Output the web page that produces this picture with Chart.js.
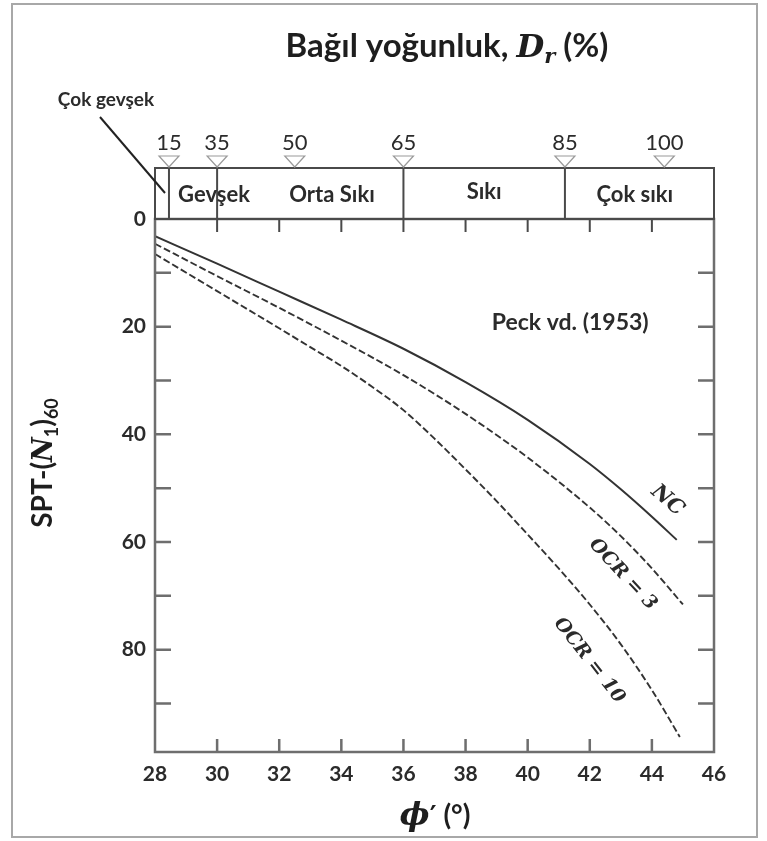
<!DOCTYPE html>
<html>
<head>
<meta charset="utf-8">
<script src="https://cdn.jsdelivr.net/npm/chart.js@4.4.1/dist/chart.umd.min.js"></script>
<style>
  html, body { margin: 0; padding: 0; background: #fff; }
  #wrap { width: 767px; height: 841px; }
</style>
</head>
<body>
<div id="wrap"><canvas id="sptChart" width="767" height="841"></canvas></div>
<script>
// phi' axis (bottom) and SPT axis (left, downward)
var phiTicks = [28, 30, 32, 34, 36, 38, 40, 42, 44, 46];
var nTicks = [0, 20, 40, 60, 80];
var phiMinor = [30, 32, 34, 36, 38, 40, 42, 44];
var nMinor = [10, 20, 30, 40, 50, 60, 70, 80, 90];

// Peck et al. curves
var ncPhi = [28, 30, 32, 34, 36, 38, 40, 42, 43, 44, 44.8];
var ncN = [3.2, 8.3, 13.5, 18.7, 24.1, 30.3, 37.3, 45.5, 50.2, 55.3, 59.6];
var ocr3Phi = [28, 30, 32, 34, 36, 38, 40, 42, 43, 44, 45];
var ocr3N = [4.6, 10.6, 16.5, 22.6, 29.0, 36.2, 44.3, 53.6, 58.9, 64.9, 71.6];
var ocr10Phi = [28, 30, 32, 33, 34, 35, 36, 37, 38, 39, 40, 41, 42, 43, 44, 44.9];
var ocr10N = [6.5, 13.4, 20.3, 23.8, 27.3, 31.2, 35.5, 40.8, 46.5, 52.4, 58.6, 64.9, 71.6, 79.0, 87.5, 96.2];

// relative density band on top
var drValues = [15, 35, 50, 65, 85, 100];
var drPhi = [28.45, 30, 32.5, 36, 41.2, 44.4];
var drDividers = [15, 35, 65, 85];
var classNames = ['Gevşek', 'Orta Sıkı', 'Sıkı', 'Çok sıkı'];
var classPhi = [29.9, 33.7, 38.6, 43.45];

var SANS = 'Lato, "Open Sans", sans-serif';
var SERIF = '"DejaVu Serif", serif';
var INK = '#2b2b2b';

function pairs(xs, ys) {
    return xs.map(function (v, i) { return { x: v, y: ys[i] }; });
}

// draws a line of text made of differently styled pieces, centred on cx
function drawRuns(ctx, runs, cx, cy) {
    var total = 0;
    runs.forEach(function (r) {
        ctx.font = r.font;
        r.w = ctx.measureText(r.text).width;
        total += r.w;
    });
    var x = cx - total / 2;
    ctx.textAlign = 'left';
    ctx.textBaseline = 'alphabetic';
    runs.forEach(function (r) {
        ctx.font = r.font;
        ctx.fillText(r.text, x, cy + (r.dy || 0));
        x += r.w;
    });
}

var decorPlugin = {
    id: 'decor',
    beforeDraw: function (chart) {
        var ctx = chart.ctx;
        ctx.save();
        ctx.fillStyle = '#fff';
        ctx.fillRect(0, 0, chart.width, chart.height);
        ctx.restore();
    },
    afterDraw: function (chart) {
        var ctx = chart.ctx;
        var a = chart.chartArea;
        var xs = chart.scales.x;
        var ys = chart.scales.y;
        var bandTop = a.top - 51;

        ctx.save();

        // outer frame
        ctx.strokeStyle = '#a8a8a8';
        ctx.lineWidth = 2;
        ctx.strokeRect(12, 4, 745, 833);

        // plot border
        ctx.strokeStyle = '#6e6e6e';
        ctx.lineWidth = 2.5;
        ctx.strokeRect(a.left, a.top, a.right - a.left, a.bottom - a.top);

        // inward ticks
        ctx.beginPath();
        phiMinor.forEach(function (v) {
            var px = xs.getPixelForValue(v);
            ctx.moveTo(px, a.bottom);
            ctx.lineTo(px, a.bottom - 13);
        });
        nMinor.forEach(function (v) {
            var py = ys.getPixelForValue(v);
            ctx.moveTo(a.left, py);
            ctx.lineTo(a.left + 16, py);
            ctx.moveTo(a.right, py);
            ctx.lineTo(a.right - 16, py);
        });
        ctx.stroke();

        ctx.strokeStyle = '#4a4a4a';
        ctx.lineWidth = 2;
        ctx.beginPath();
        phiMinor.forEach(function (v) {
            var px = xs.getPixelForValue(v);
            ctx.moveTo(px, a.top);
            ctx.lineTo(px, a.top + 13);
        });
        ctx.stroke();

        // density band box and dividers
        ctx.strokeRect(a.left, bandTop, a.right - a.left, a.top - bandTop);
        ctx.beginPath();
        drDividers.forEach(function (d) {
            var px = xs.getPixelForValue(drPhi[drValues.indexOf(d)]);
            ctx.moveTo(px, bandTop);
            ctx.lineTo(px, a.top);
        });
        ctx.stroke();

        // markers and values above the band
        ctx.strokeStyle = '#9a9a9a';
        ctx.lineWidth = 1.2;
        ctx.fillStyle = INK;
        ctx.font = '22px ' + SANS;
        ctx.textAlign = 'center';
        ctx.textBaseline = 'middle';
        drValues.forEach(function (d, i) {
            var px = xs.getPixelForValue(drPhi[i]);
            ctx.beginPath();
            ctx.moveTo(px - 10, bandTop - 12);
            ctx.lineTo(px + 10, bandTop - 12);
            ctx.lineTo(px, bandTop - 1);
            ctx.closePath();
            ctx.stroke();
            ctx.fillText(String(d), px, bandTop - 25);
        });

        ctx.font = 'bold 22px ' + SANS;
        classNames.forEach(function (name, i) {
            var py = name === 'Sıkı' ? a.top - 27 : a.top - 24;
            ctx.fillText(name, xs.getPixelForValue(classPhi[i]), py);
        });

        // "Çok gevşek" leader
        ctx.font = 'bold 19px ' + SANS;
        ctx.fillText('Çok gevşek', 106, 100);
        ctx.strokeStyle = '#222';
        ctx.lineWidth = 2;
        ctx.beginPath();
        ctx.moveTo(100, 117);
        ctx.lineTo(165, 193);
        ctx.stroke();

        ctx.font = 'bold 23px ' + SANS;
        ctx.fillText('Peck vd. (1953)', xs.getPixelForValue(41.37), ys.getPixelForValue(19.2));

        // curve labels
        [['NC', 44.5, 52.3, 41, 21], ['OCR = 3', 43.06, 66.0, 47, 19], ['OCR = 10', 41.98, 82.0, 52, 19]].forEach(function (l) {
            ctx.save();
            ctx.font = 'italic bold ' + l[4] + 'px ' + SERIF;
            ctx.translate(xs.getPixelForValue(l[1]), ys.getPixelForValue(l[2]));
            ctx.rotate(l[3] * Math.PI / 180);
            ctx.fillText(l[0], 0, 0);
            ctx.restore();
        });

        // titles
        ctx.fillStyle = '#1e1e1e';
        drawRuns(ctx, [
            { text: 'Bağıl yoğunluk, ', font: 'bold 33px ' + SANS },
            { text: 'D', font: 'italic bold 32px ' + SERIF },
            { text: 'r', font: 'italic bold 21px ' + SERIF, dy: 6 },
            { text: ' (%)', font: 'bold 33px ' + SANS }
        ], 447, 57);

        drawRuns(ctx, [
            { text: '\u03d5', font: 'italic bold 32px ' + SERIF },
            { text: '\u2032', font: 'bold 26px "DejaVu Sans", sans-serif' },
            { text: ' (°)', font: 'bold 28px ' + SANS }
        ], 435, 825);

        ctx.save();
        ctx.translate(52, 463);
        ctx.rotate(-Math.PI / 2);
        drawRuns(ctx, [
            { text: 'SPT-(', font: 'bold 28px ' + SANS },
            { text: 'N', font: 'italic bold 27px ' + SERIF },
            { text: '1', font: 'bold 18px ' + SANS, dy: 6 },
            { text: ')', font: 'bold 28px ' + SANS },
            { text: '60', font: 'bold 18px ' + SANS, dy: 6 }
        ], 0, 0);
        ctx.restore();

        ctx.restore();
    }
};

var ctx = document.getElementById('sptChart').getContext('2d');
new Chart(ctx, {
    type: 'line',
    data: {
        datasets: [
            {
                label: 'NC',
                data: pairs(ncPhi, ncN),
                borderColor: '#333',
                borderWidth: 2,
                pointRadius: 0,
                cubicInterpolationMode: 'monotone'
            },
            {
                label: 'OCR = 3',
                data: pairs(ocr3Phi, ocr3N),
                borderColor: '#333',
                borderWidth: 1.9,
                borderDash: [7, 3],
                pointRadius: 0,
                cubicInterpolationMode: 'monotone'
            },
            {
                label: 'OCR = 10',
                data: pairs(ocr10Phi, ocr10N),
                borderColor: '#333',
                borderWidth: 1.9,
                borderDash: [7, 3],
                pointRadius: 0,
                cubicInterpolationMode: 'monotone'
            }
        ]
    },
    options: {
        responsive: false,
        animation: false,
        layout: {
            padding: { top: 219, right: 53, left: 0, bottom: 0 }
        },
        plugins: {
            legend: { display: false },
            tooltip: { enabled: false }
        },
        scales: {
            x: {
                type: 'linear',
                min: 28,
                max: 46,
                afterBuildTicks: function (scale) {
                    scale.ticks = phiTicks.map(function (v) { return { value: v }; });
                },
                afterFit: function (scale) { scale.height = 89; },
                grid: { display: false, drawTicks: false },
                border: { display: false },
                ticks: {
                    color: INK,
                    padding: 10,
                    maxRotation: 0,
                    font: { family: SANS, size: 21, weight: 'bold' }
                }
            },
            y: {
                type: 'linear',
                min: 0,
                max: 99,
                reverse: true,
                afterBuildTicks: function (scale) {
                    scale.ticks = nTicks.map(function (v) { return { value: v }; });
                },
                afterFit: function (scale) { scale.width = 155; },
                grid: { display: false, drawTicks: false },
                border: { display: false },
                ticks: {
                    color: INK,
                    padding: 9,
                    font: { family: SANS, size: 21, weight: 'bold' }
                }
            }
        }
    },
    plugins: [decorPlugin]
});
</script>
</body>
</html>
